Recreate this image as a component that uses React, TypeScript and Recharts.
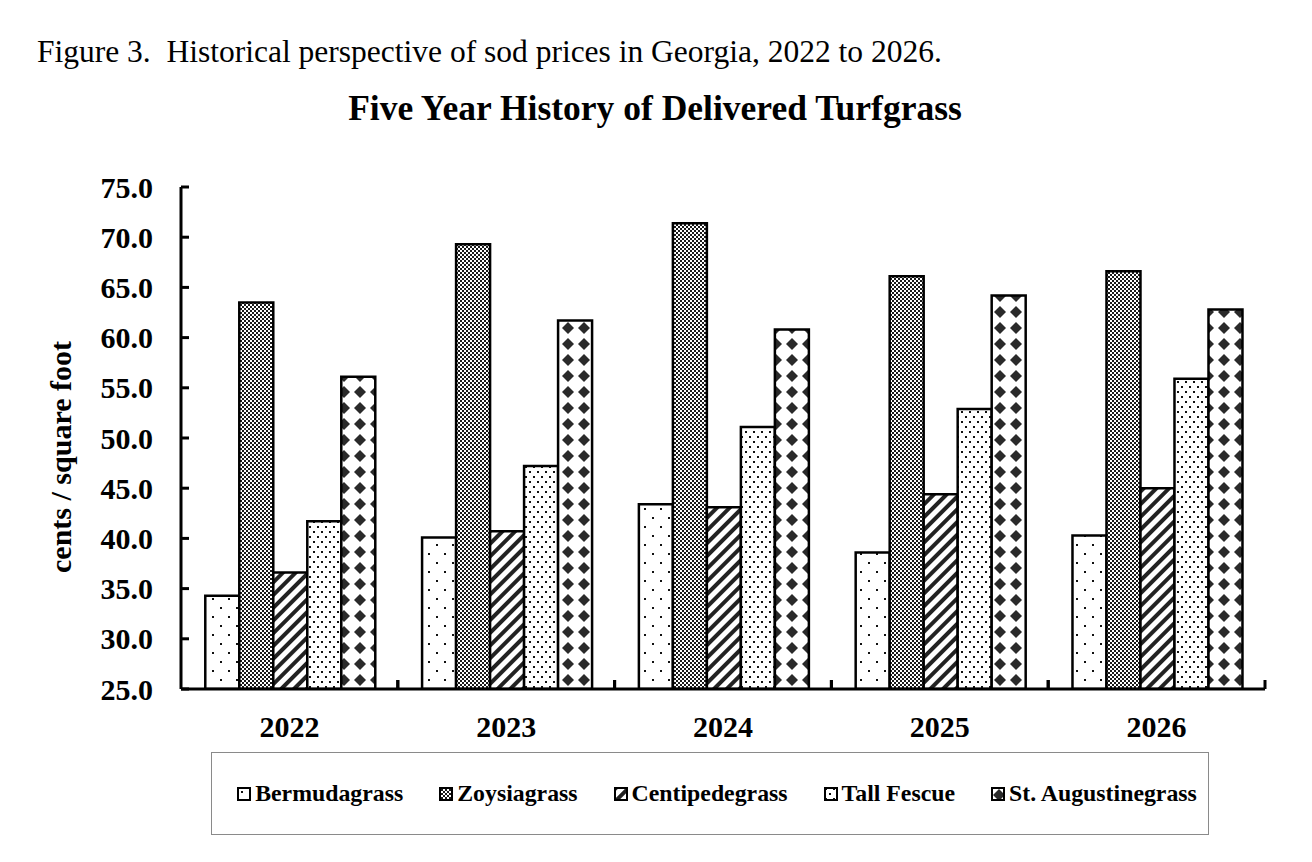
import { BarChart, Bar, XAxis, YAxis, Legend } from "recharts";

// Delivered turfgrass prices, cents per square foot
const years = ["2022", "2023", "2024", "2025", "2026"];
const bermudagrass = [34.3, 40.1, 43.4, 38.6, 40.3];
const zoysiagrass = [63.5, 69.3, 71.4, 66.1, 66.6];
const centipedegrass = [36.6, 40.7, 43.1, 44.4, 45.0];
const tallFescue = [41.7, 47.2, 51.1, 52.9, 55.9];
const stAugustinegrass = [56.1, 61.7, 60.8, 64.2, 62.8];
const yTicks = [25, 30, 35, 40, 45, 50, 55, 60, 65, 70, 75];

const series = [
  { key: "bermuda", name: "Bermudagrass", values: bermudagrass, pattern: "pat-bermuda" },
  { key: "zoysia", name: "Zoysiagrass", values: zoysiagrass, pattern: "pat-zoysia" },
  { key: "centipede", name: "Centipedegrass", values: centipedegrass, pattern: "pat-centipede" },
  { key: "fescue", name: "Tall Fescue", values: tallFescue, pattern: "pat-fescue" },
  { key: "staug", name: "St. Augustinegrass", values: stAugustinegrass, pattern: "pat-staug" },
];

const data = years.map((year, i) => {
  const row: Record<string, string | number> = { year };
  series.forEach((s) => {
    row[s.key] = s.values[i];
  });
  return row;
});

const FONT = "'Liberation Serif', 'Times New Roman', serif";
const W = 1312;
const H = 862;
const X_AXIS_HEIGHT = 60;
const MARGIN = { top: 187, right: 47, bottom: H - 689 - X_AXIS_HEIGHT, left: 81 };
const Y_AXIS_WIDTH = 100;
const PLOT_WIDTH = W - MARGIN.left - MARGIN.right - Y_AXIS_WIDTH;
const BAND = PLOT_WIDTH / years.length;

function Patterns() {
  return (
    <svg width={0} height={0} style={{ position: "absolute" }}>
      <defs>
        <pattern id="pat-bermuda" width={16} height={18} patternUnits="userSpaceOnUse">
          <rect width={16} height={18} fill="#fff" />
          <rect x={4} y={4} width={2} height={2} fill="#111" />
          <rect x={12} y={13} width={2} height={2} fill="#111" />
        </pattern>
        <pattern id="pat-zoysia" width={4} height={4} patternUnits="userSpaceOnUse">
          <rect width={4} height={4} fill="#fff" />
          <rect width={2} height={2} fill="#1a1a1a" />
          <rect x={2} y={2} width={2} height={2} fill="#1a1a1a" />
        </pattern>
        <pattern
          id="pat-centipede"
          width={9}
          height={9}
          patternUnits="userSpaceOnUse"
          patternTransform="rotate(45)"
        >
          <rect width={9} height={9} fill="#fff" />
          <rect width={4} height={9} fill="#222" />
        </pattern>
        <pattern id="pat-fescue" width={8} height={10} patternUnits="userSpaceOnUse">
          <rect width={8} height={10} fill="#fff" />
          <rect x={1} y={1} width={2} height={2} fill="#111" />
          <rect x={5} y={6} width={2} height={2} fill="#111" />
        </pattern>
        <pattern id="pat-staug" width={16} height={16} patternUnits="userSpaceOnUse">
          <rect width={16} height={16} fill="#fff" />
          <polygon points="8,2 14,8 8,14 2,8" fill="#2a2a2a" />
        </pattern>
      </defs>
    </svg>
  );
}

// value labels on the left with short inward tick marks
function YTick(props: any) {
  const { x, y, payload } = props;
  return (
    <g>
      <line x1={x} x2={x + 8} y1={y} y2={y} stroke="#000" strokeWidth={3} />
      <text
        x={x - 28}
        y={y}
        dy="0.35em"
        textAnchor="end"
        fontFamily={FONT}
        fontWeight="bold"
        fontSize={30}
        fill="#000"
      >
        {Number(payload.value).toFixed(1)}
      </text>
    </g>
  );
}

// year labels, with inward tick marks on the category boundaries
function XTick(props: any) {
  const { x, y, payload, index } = props;
  const left = x - BAND / 2;
  const right = x + BAND / 2;
  return (
    <g>
      {index > 0 && <line x1={left} x2={left} y1={y} y2={y - 9} stroke="#000" strokeWidth={3} />}
      <line x1={right} x2={right} y1={y} y2={y - 9} stroke="#000" strokeWidth={3} />
      <text
        x={x}
        y={y + 48}
        textAnchor="middle"
        fontFamily={FONT}
        fontWeight="bold"
        fontSize={30}
        fill="#000"
      >
        {payload.value}
      </text>
    </g>
  );
}

function LegendBox() {
  return (
    <div
      style={{
        width: 998,
        height: 83,
        border: "1.5px solid #8a8a8a",
        display: "flex",
        alignItems: "center",
        justifyContent: "center",
        gap: 36,
        paddingLeft: 14,
        boxSizing: "border-box",
        fontFamily: FONT,
        fontWeight: "bold",
        fontSize: 23.8,
        color: "#000",
      }}
    >
      {series.map((s) => (
        <div key={s.key} style={{ display: "flex", alignItems: "center", gap: 4 }}>
          <svg width={14} height={14}>
            <rect x={1} y={1} width={12} height={12} fill={`url(#${s.pattern})`} stroke="#000" strokeWidth={2} />
          </svg>
          <span>{s.name}</span>
        </div>
      ))}
    </div>
  );
}

export default function App() {
  return (
    <div style={{ position: "absolute", left: 0, top: 0, width: W, height: H, background: "#fff" }}>
      <Patterns />
      <BarChart
        width={W}
        height={H}
        data={data}
        margin={MARGIN}
        barCategoryGap="11.2%"
        barGap={0}
      >
        <XAxis
          dataKey="year"
          axisLine={{ stroke: "#000", strokeWidth: 3 }}
          tickLine={false}
          tickSize={0}
          tickMargin={0}
          tick={<XTick />}
          interval={0}
          height={X_AXIS_HEIGHT}
        />
        <YAxis
          domain={[25, 75]}
          ticks={yTicks}
          allowDataOverflow
          width={Y_AXIS_WIDTH}
          axisLine={{ stroke: "#000", strokeWidth: 3 }}
          tickLine={false}
          tickSize={0}
          tickMargin={0}
          tick={<YTick />}
          interval={0}
        />
        <Legend
          layout="horizontal"
          verticalAlign="middle"
          align="center"
          wrapperStyle={{ left: 211, top: 752, width: 998, height: 83 }}
          content={() => <LegendBox />}
        />
        {series.map((s) => (
          <Bar
            key={s.key}
            dataKey={s.key}
            name={s.name}
            fill={`url(#${s.pattern})`}
            stroke="#000"
            strokeWidth={2.5}
            isAnimationActive={false}
          />
        ))}
      </BarChart>
      <svg
        width={W}
        height={H}
        style={{ position: "absolute", left: 0, top: 0, pointerEvents: "none" }}
      >
        <text x={37} y={62} fontFamily={FONT} fontSize={31.5} fill="#000">
          Figure 3.{"\u00a0\u00a0"}Historical perspective of sod prices in Georgia, 2022 to 2026.
        </text>
        <text
          x={655}
          y={120}
          textAnchor="middle"
          fontFamily={FONT}
          fontWeight="bold"
          fontSize={35.5}
          fill="#000"
        >
          Five Year History of Delivered Turfgrass
        </text>
        <text
          transform="translate(71 457) rotate(-90)"
          textAnchor="middle"
          fontFamily={FONT}
          fontWeight="bold"
          fontSize={30}
          fill="#000"
        >
          cents / square foot
        </text>
      </svg>
    </div>
  );
}
